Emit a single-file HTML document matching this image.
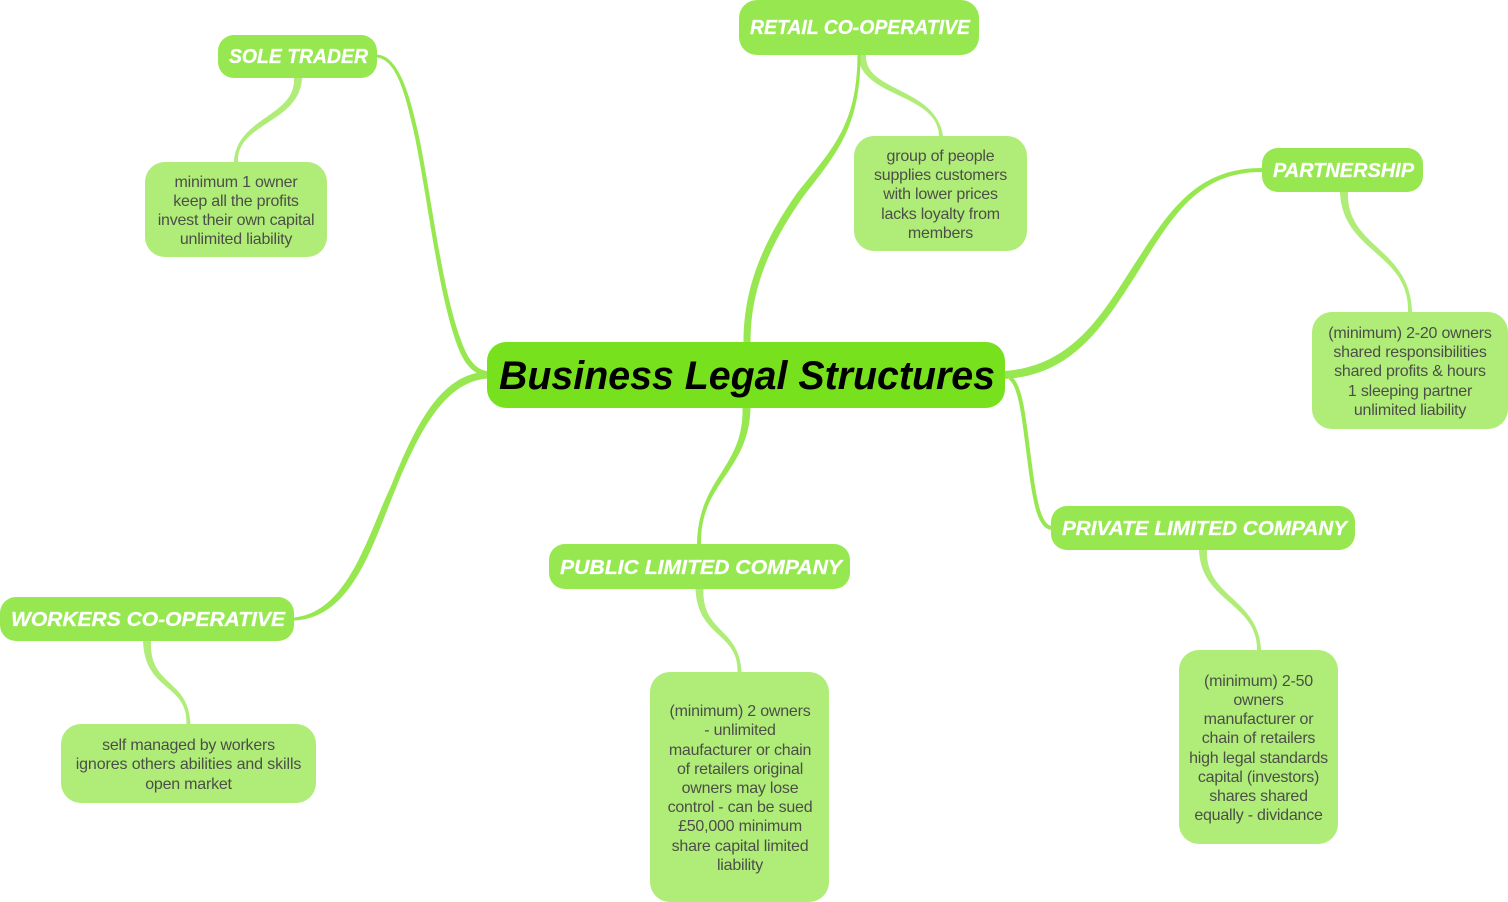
<!DOCTYPE html>
<html lang="en">
<head>
<meta charset="utf-8">
<title>Business Legal Structures</title>
<style>
html,body{margin:0;padding:0;background:#fff;width:1508px;height:902px;overflow:hidden}
svg{display:block}
text{font-family:"Liberation Sans",Arial,sans-serif;text-anchor:middle}
.m{fill:#97e850}
.l{fill:#b0ec78}
.b{font-size:20px;font-weight:bold;font-style:italic;fill:#fff;stroke:#fff;stroke-width:.25px}
.t{font-size:16px;fill:#4b4f48;letter-spacing:-.22px}
.c{font-size:40px;font-weight:bold;font-style:italic;fill:#000}
</style>
</head>
<body>
<svg width="1508" height="902" viewBox="0 0 1508 902" xmlns="http://www.w3.org/2000/svg">
<!-- leaf connectors -->
<path class="l" d="M294,78C296,117 236,117 234,162L238,162C236,123 300,123 302,78Z"/>
<path class="l" d="M858,55C860,98 938,93 939,136L943,136C936,87 864,92 866,55Z"/>
<path class="l" d="M1340,192C1342,252.500 1409.500,252.500 1408,312L1412,312C1410.500,247.500 1346,247.500 1348,192Z"/>
<path class="l" d="M1199,550C1201,602.500 1257.500,602.500 1257,650L1261,650C1258.500,597.500 1205,597.500 1207,550Z"/>
<path class="l" d="M695.500,589C697.500,637.500 738.500,632.500 737.500,672L741.500,672C739.500,627.500 701.500,632.500 703.500,589Z"/>
<path class="l" d="M143,641C145,692.500 187.500,682.500 186.500,724L190.500,724C188.500,677.500 149,687.500 151,641Z"/>
<!-- main connectors -->
<path class="m" d="M377,54.500C399,56 410,95 419,136.500C433,205 443,299 464.500,349C470,362 478,370 487,371L487,377C474,374 466,366 459.500,351C439,301 429,206 415,137.500C406,96 397,60 377,57.500Z"/>
<path class="m" d="M743.500,342C743.500,289 762,243 797,193C833,148 857,125 857.500,55L860.500,55C860.500,126 838,152 803,197C768,247 750.500,291 750.500,342Z"/>
<path class="m" d="M1005,371C1068,366 1098,322 1130,271C1168,213 1194,168 1262,168L1262,172C1197,172 1172,217 1136,275C1102,328 1072,375 1005,379Z"/>
<path d="M1010,378C1022,385 1025,430 1030,465C1035,505 1040,526 1051,528" fill="none" stroke="#97e850" stroke-width="4"/>
<path class="m" d="M742.500,408C744,468 698,478 697,544L701,544C700,482 749,472 750.500,408Z"/>
<path class="m" d="M294,617.500C348,612 367,537 391,486C418,418 443,374 487,371.500L487,378.500C448,382 423,422 396,488C373,543 353,618 294,620.500Z"/>
<!-- central -->
<rect x="487" y="342" width="518" height="66" rx="19" fill="#78e11e"/>
<text class="c" x="747" y="389" textLength="496" lengthAdjust="spacingAndGlyphs">Business Legal Structures</text>
<!-- branches -->
<rect class="m" x="218" y="35" width="159" height="43" rx="16"/>
<text class="b" x="298.500" y="63" textLength="139" lengthAdjust="spacingAndGlyphs">SOLE TRADER</text>
<rect class="m" x="739" y="0" width="240" height="55" rx="18"/>
<text class="b" x="860" y="34" textLength="220" lengthAdjust="spacingAndGlyphs">RETAIL CO-OPERATIVE</text>
<rect class="m" x="1262" y="148" width="161" height="44" rx="16"/>
<text class="b" x="1343.500" y="177" textLength="141" lengthAdjust="spacingAndGlyphs">PARTNERSHIP</text>
<rect class="m" x="1051" y="506" width="304" height="44" rx="16"/>
<text class="b" x="1204.500" y="535" textLength="285" lengthAdjust="spacingAndGlyphs">PRIVATE LIMITED COMPANY</text>
<rect class="m" x="549" y="544" width="301" height="45" rx="16"/>
<text class="b" x="701" y="574" textLength="282" lengthAdjust="spacingAndGlyphs">PUBLIC LIMITED COMPANY</text>
<rect class="m" x="0" y="597" width="294" height="44" rx="16"/>
<text class="b" x="148" y="626" textLength="274" lengthAdjust="spacingAndGlyphs">WORKERS CO-OPERATIVE</text>
<!-- leaves -->
<rect class="l" x="145" y="162" width="182" height="95" rx="20"/>
<text class="t" x="236" y="187">minimum 1 owner</text>
<text class="t" x="236" y="206">keep all the profits</text>
<text class="t" x="236" y="225">invest their own capital</text>
<text class="t" x="236" y="244">unlimited liability</text>
<rect class="l" x="854" y="136" width="173" height="115" rx="20"/>
<text class="t" x="940.500" y="161">group of people</text>
<text class="t" x="940.500" y="180">supplies customers</text>
<text class="t" x="940.500" y="199">with lower prices</text>
<text class="t" x="940.500" y="219">lacks loyalty from</text>
<text class="t" x="940.500" y="238">members</text>
<rect class="l" x="1312" y="312" width="196" height="117" rx="20"/>
<text class="t" x="1410" y="338">(minimum) 2-20 owners</text>
<text class="t" x="1410" y="357">shared responsibilities</text>
<text class="t" x="1410" y="376">shared profits &amp; hours</text>
<text class="t" x="1410" y="396">1 sleeping partner</text>
<text class="t" x="1410" y="415">unlimited liability</text>
<rect class="l" x="1179" y="650" width="159" height="194" rx="20"/>
<text class="t" x="1258.500" y="686">(minimum) 2-50</text>
<text class="t" x="1258.500" y="705">owners</text>
<text class="t" x="1258.500" y="724">manufacturer or</text>
<text class="t" x="1258.500" y="743">chain of retailers</text>
<text class="t" x="1258.500" y="763">high legal standards</text>
<text class="t" x="1258.500" y="782">capital (investors)</text>
<text class="t" x="1258.500" y="801">shares shared</text>
<text class="t" x="1258.500" y="820">equally - dividance</text>
<rect class="l" x="650" y="672" width="179" height="230" rx="20"/>
<text class="t" x="740" y="716">(minimum) 2 owners</text>
<text class="t" x="740" y="735">- unlimited</text>
<text class="t" x="740" y="755">maufacturer or chain</text>
<text class="t" x="740" y="774">of retailers original</text>
<text class="t" x="740" y="793">owners may lose</text>
<text class="t" x="740" y="812">control - can be sued</text>
<text class="t" x="740" y="831">£50,000 minimum</text>
<text class="t" x="740" y="851">share capital limited</text>
<text class="t" x="740" y="870">liability</text>
<rect class="l" x="61" y="724" width="255" height="79" rx="20"/>
<text class="t" x="188.500" y="750">self managed by workers</text>
<text class="t" x="188.500" y="769" style="letter-spacing:-.11px">ignores others abilities and skills</text>
<text class="t" x="188.500" y="789">open market</text>
</svg>
</body>
</html>
